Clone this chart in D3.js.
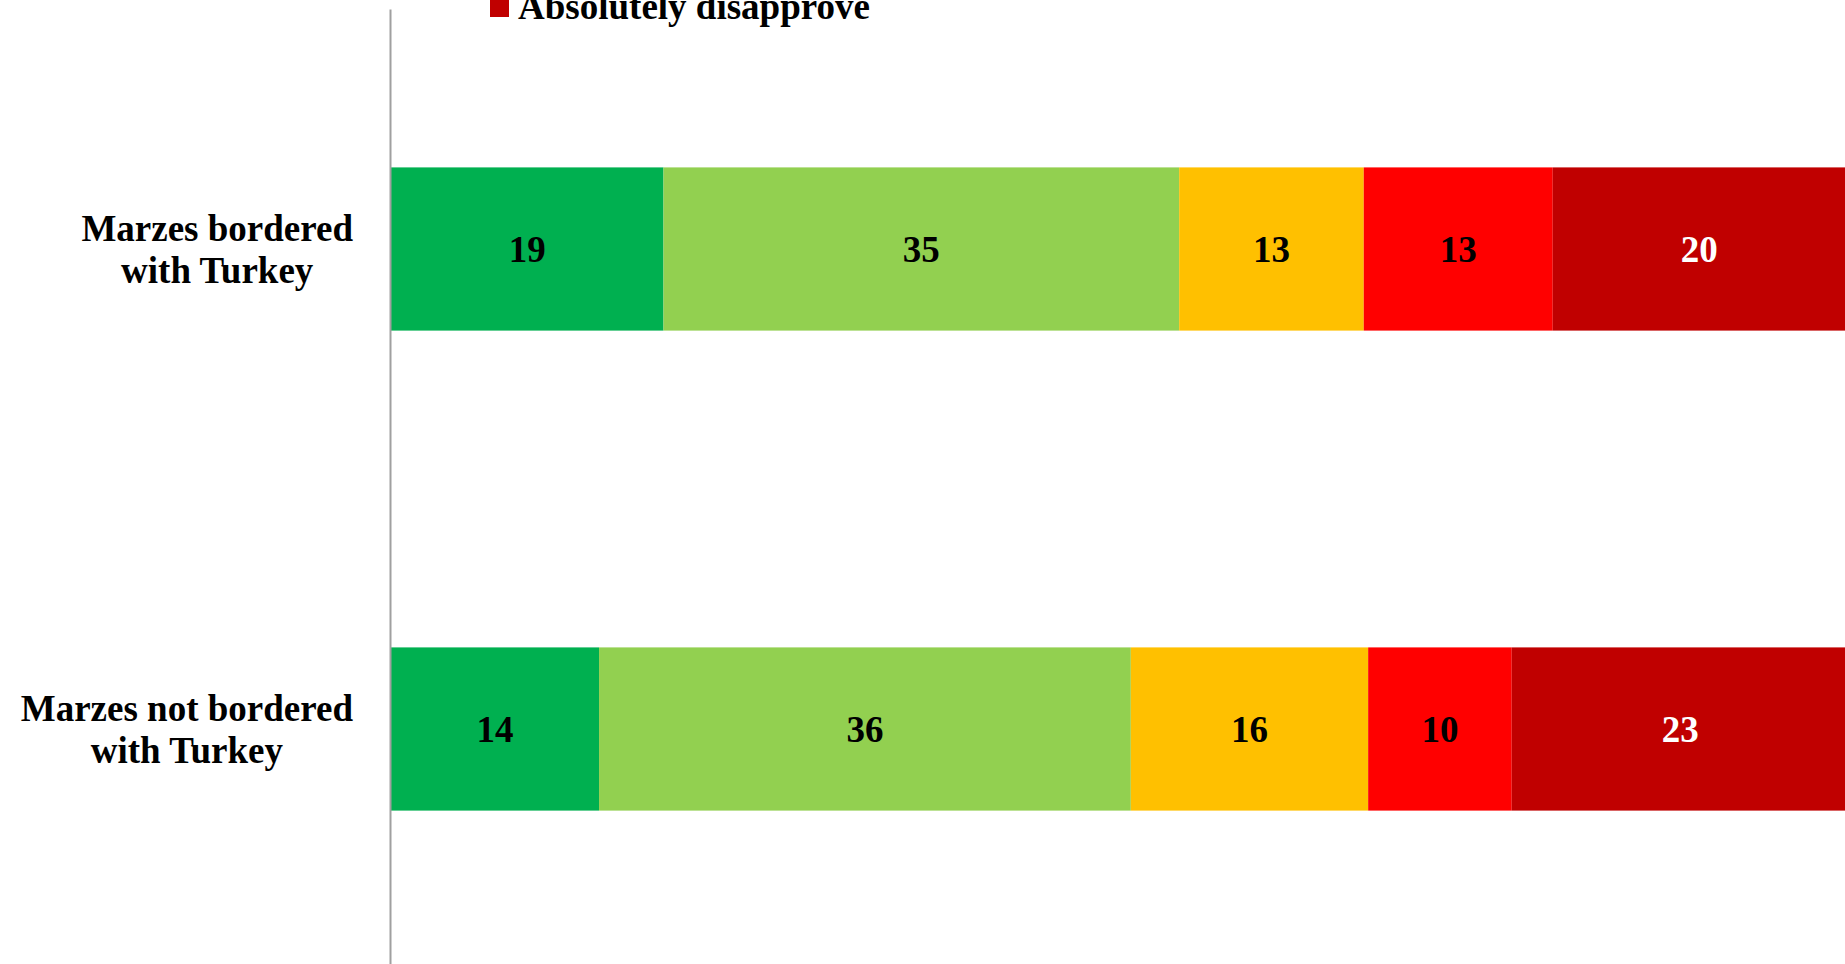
<!DOCTYPE html>
<html>
<head>
<meta charset="utf-8">
<script src="https://cdn.jsdelivr.net/npm/d3@7"></script>
<style>
  html, body { margin: 0; padding: 0; background: #ffffff; overflow: hidden; }
  svg { display: block; }
  text { font-family: "Times New Roman", "Liberation Serif", serif; font-weight: bold; }
</style>
</head>
<body>
<svg id="chart" width="1845" height="964"></svg>
<script>
// ---- data ----
const categories = ["Marzes bordered with Turkey", "Marzes not bordered with Turkey"];
const seriesNames = ["Absolutely approve", "Rather approve", "Difficult to answer", "Rather disapprove", "Absolutely disapprove"];
const absolutelyApprove    = [18.6, 14.2];
const ratherApprove        = [35.2, 36.3];
const difficultToAnswer    = [12.6, 16.2];
const ratherDisapprove     = [12.9, 9.8];
const absolutelyDisapprove = [20.0, 23.0];
const seriesColors = ["#00B050", "#92D050", "#FFC000", "#FF0000", "#C00000"];
const labelColors  = ["#000000", "#000000", "#000000", "#000000", "#FFFFFF"];

// ---- build table ----
const seriesValues = [absolutelyApprove, ratherApprove, difficultToAnswer, ratherDisapprove, absolutelyDisapprove];
const table = categories.map((c, i) => {
  const row = { category: c };
  seriesNames.forEach((s, j) => row[s] = seriesValues[j][i]);
  return row;
});

const svg = d3.select("#chart");
const fontSize = 37;

const x = d3.scaleLinear().domain([0, 100]).range([391, 1856]);
const y = d3.scaleBand().domain(categories).range([9, 969]).paddingInner(0.66).paddingOuter(0.33);

const stacked = d3.stack().keys(seriesNames)(table);

// bars
const layers = svg.append("g").selectAll("g")
  .data(stacked).join("g")
  .attr("fill", (d, i) => seriesColors[i]);

layers.selectAll("rect")
  .data(d => d.map(p => ({ p, key: d.key })))
  .join("rect")
  .attr("x", d => x(d.p[0]))
  .attr("y", d => y(d.p.data.category))
  .attr("width", d => x(d.p[1]) - x(d.p[0]))
  .attr("height", y.bandwidth());

// value labels
stacked.forEach((layer, i) => {
  svg.append("g").selectAll("text")
    .data(layer).join("text")
    .attr("x", d => (x(d[0]) + x(d[1])) / 2)
    .attr("y", d => y(d.data.category) + y.bandwidth() / 2)
    .attr("dy", "0.34em")
    .attr("text-anchor", "middle")
    .attr("font-size", fontSize)
    .attr("fill", labelColors[i])
    .text(d => d3.format(".0f")(d[1] - d[0]));
});

// category axis line
const axis = svg.append("g")
  .attr("transform", "translate(390,0)")
  .call(d3.axisLeft(y).tickSize(0).tickFormat(""));
axis.select(".domain").attr("stroke", "#A0A0A0").attr("stroke-width", 2);

// category labels (wrapped, centred lines, block right-aligned to axis)
const lineHeight = 42;
categories.forEach(c => {
  const lines = c.split(/ (?=with )/);
  const g = svg.append("g");
  const cy = y(c) + y.bandwidth() / 2;
  const texts = lines.map((ln, k) => g.append("text")
    .attr("font-size", fontSize)
    .attr("text-anchor", "middle")
    .attr("y", cy + (k - (lines.length - 1) / 2) * lineHeight)
    .attr("dy", "0.34em")
    .attr("fill", "#000")
    .text(ln));
  const w = d3.max(texts, t => t.node().getComputedTextLength());
  const cx = 390 - 37 - w / 2;
  texts.forEach(t => t.attr("x", cx));
});

// legend (vertical list; only the last entry lies inside the visible area)
const legend = svg.append("g");
const legendStep = 42;
seriesNames.forEach((s, i) => {
  const base = 19 - (seriesNames.length - 1 - i) * legendStep;
  if (base < 0) return; // entries above the top edge are not visible
  legend.append("rect")
    .attr("x", 490).attr("y", base - 21).attr("width", 19).attr("height", 19)
    .attr("fill", seriesColors[i]);
  legend.append("text")
    .attr("x", 518).attr("y", base)
    .attr("font-size", fontSize)
    .attr("fill", "#000")
    .text(s);
});
</script>
</body>
</html>
